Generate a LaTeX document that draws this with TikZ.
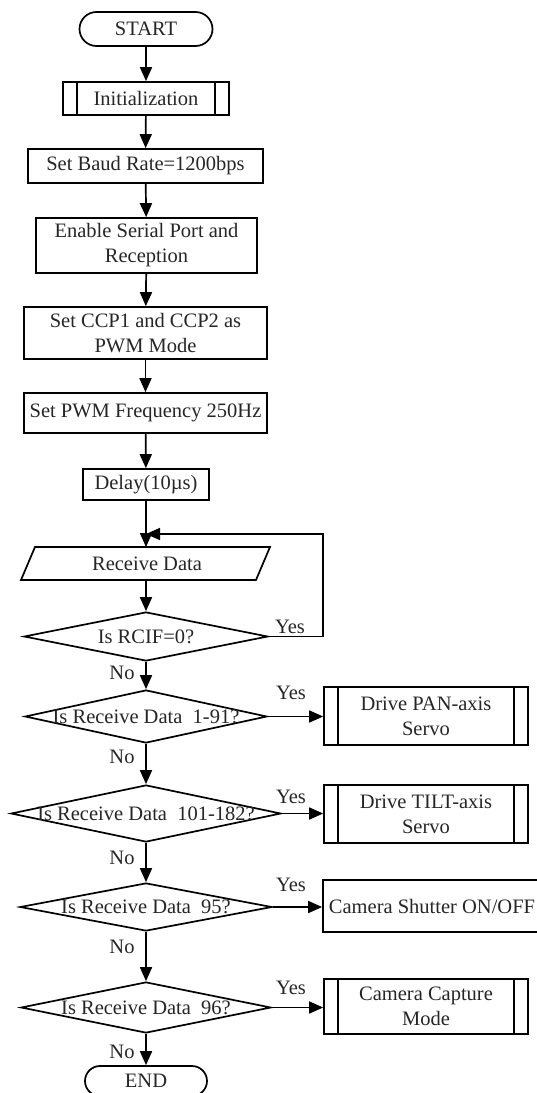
\documentclass[tikz,border=0pt]{standalone}
\usepackage{fontspec}
\setmainfont{Liberation Serif}
\usetikzlibrary{shapes.misc,shapes.geometric,arrows.meta}

\begin{document}
\begin{tikzpicture}[x=1pt,y=-1pt,
  every node/.style={font=\fontsize{20.5}{25}\selectfont, text=black!85},
  term/.style={draw, line width=1.7pt, rounded rectangle, inner sep=0pt},
  proc/.style={draw, line width=1.7pt, rectangle, inner sep=0pt, align=center},
  dec/.style={draw, line width=1.7pt, diamond, inner sep=0pt},
  lbl/.style={inner sep=0pt},
  conn/.style={line width=1.7pt, -{Triangle[length=14pt,width=12pt]}},
  wire/.style={line width=1.7pt}
]
\useasboundingbox (0,0) rectangle (536,1093);

% main column
\node[term, minimum width=133pt, minimum height=34pt] (start) at (146,29) {START};
\node[proc, minimum width=166pt, minimum height=33pt] (init) at (146,98.5) {Initialization};
\node[proc, minimum width=235pt, minimum height=34pt] (baud) at (145.5,166) {Set Baud Rate=1200bps};
\node[proc, minimum width=221pt, minimum height=55pt] (serial) at (146.5,245.5) {Enable Serial Port and\\Reception};
\node[proc, minimum width=243pt, minimum height=52pt] (ccp) at (145.5,333) {Set CCP1 and CCP2 as\\PWM Mode};
\node[proc, minimum width=243pt, minimum height=40pt] (freq) at (145.5,413) {Set PWM Frequency 250Hz};
\node[proc, minimum width=126pt, minimum height=31pt] (delay) at (146,484.5) {Delay(10µs)};

% input parallelogram
\draw[wire] (35,547) -- (270,547) -- (256,580) -- (21,580) -- cycle;
\node[lbl] (rcv) at (147,563.5) {Receive Data};
\coordinate (rcvtop) at (146,547);
\coordinate (rcvbot) at (146,580);

% decisions
\node[dec, minimum width=244pt, minimum height=49pt, label={center:Is RCIF=0?}] (d0) at (146,636.5) {};
\node[dec, minimum width=242pt, minimum height=53pt, label={center:Is Receive Data\ \ 1-91?}] (d1) at (146,716.5) {};
\node[dec, minimum width=270pt, minimum height=57pt, label={center:Is Receive Data\ \ 101-182?}] (d2) at (146,813.5) {};
\node[dec, minimum width=252pt, minimum height=48pt, label={center:Is Receive Data\ \ 95?}] (d3) at (146,907) {};
\node[dec, minimum width=250pt, minimum height=51pt, label={center:Is Receive Data\ \ 96?}] (d4) at (146,1007.5) {};
\node[term, minimum width=122pt, minimum height=30pt] (stop) at (146,1081) {END};

% side actions
\node[proc, minimum width=204pt, minimum height=58pt] (pan) at (426,716) {Drive PAN-axis\\Servo};
\node[proc, minimum width=204pt, minimum height=58pt] (tilt) at (426,814) {Drive TILT-axis\\Servo};
\node[proc, minimum width=218pt, minimum height=52pt] (shut) at (432,906) {Camera Shutter ON/OFF};
\node[proc, minimum width=204pt, minimum height=55pt] (cap) at (426,1006.5) {Camera Capture\\Mode};

% predefined-process side bars
\foreach \n in {init,pan,tilt,cap}{
  \draw[wire] ([xshift=15pt]\n.north west) -- ([xshift=15pt]\n.south west);
  \draw[wire] ([xshift=-15pt]\n.north east) -- ([xshift=-15pt]\n.south east);
}

% main flow
\draw[conn] (start) -- (init);
\draw[conn] (init) -- (baud);
\draw[conn] (baud) -- (serial);
\draw[conn] (serial) -- (ccp);
\draw[conn] (ccp) -- (freq);
\draw[conn] (freq) -- (delay);
\draw[conn] (delay) -- (rcvtop);
\draw[conn] (rcvbot) -- (d0.north);
\draw[conn] (d0.south) -- (d1.north);
\draw[conn] (d1.south) -- (d2.north);
\draw[conn] (d2.south) -- (d3.north);
\draw[conn] (d3.south) -- (d4.north);
\draw[conn] (d4.south) -- (stop.north);

% polling loop
\coordinate (loopin) at (146,534);
\coordinate (loopr) at (323,534);
\draw[conn] (d0.east) -| (loopr) -- (loopin);

% branches
\draw[conn] (d1.east) -- (d1.east -| pan.west);
\draw[conn] (d2.east) -- (d2.east -| tilt.west);
\draw[conn] (d3.east) -- (d3.east -| shut.west);
\draw[conn] (d4.east) -- (d4.east -| cap.west);

% branch labels
\node[lbl] (y0) at (290,627) {Yes};
\node[lbl] (y1) at (291,693) {Yes};
\node[lbl] (y2) at (291,797) {Yes};
\node[lbl] (y3) at (291,885) {Yes};
\node[lbl] (y4) at (291,988) {Yes};
\node[lbl] (n0) at (122,673) {No};
\node[lbl] (n1) at (122,757) {No};
\node[lbl] (n2) at (122,858) {No};
\node[lbl] (n3) at (122,947) {No};
\node[lbl] (n4) at (122,1052) {No};
\end{tikzpicture}
\end{document}
